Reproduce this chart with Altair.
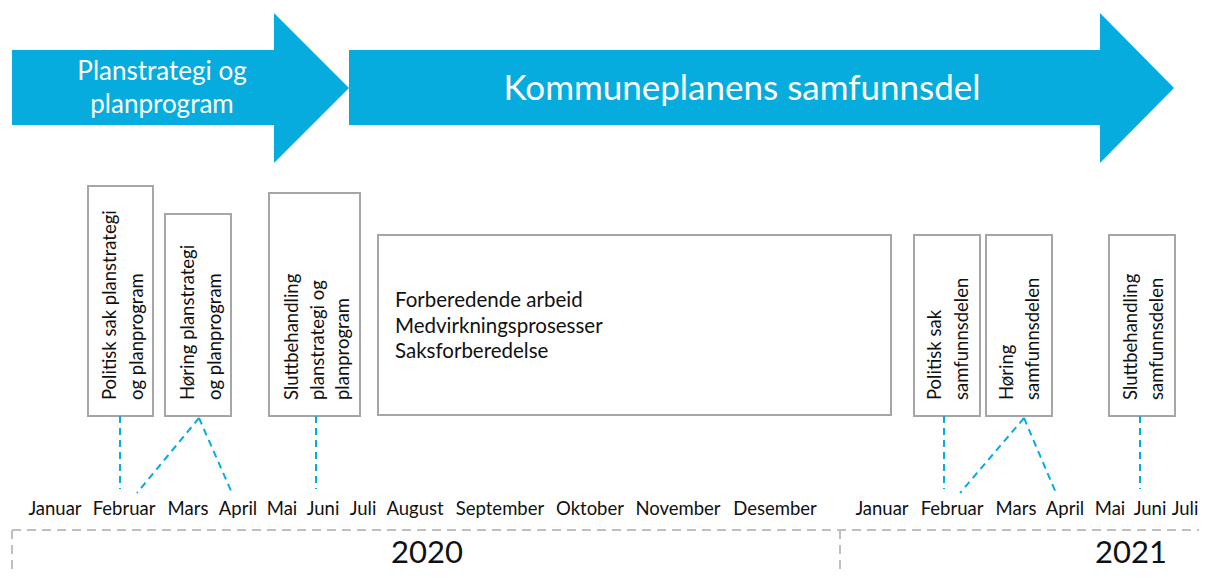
import altair as alt
import pandas as pd

# ---------------- data (timeline positions in diagram units) ----------------
BLUE = "#06ACDE"
GREY = "#A6A6A6"
DASHGREY = "#BFBFBF"
INK = "#111111"

# arrows: body rectangles
arrow_body_x0 = [12, 349]
arrow_body_x1 = [274, 1100]
arrow_body_y0 = [50, 50]
arrow_body_y1 = [125, 125]
# arrow heads (triangles): base x, tip x, top y, bottom y, tip y
head_base_x = [274, 1100]
head_tip_x = [349, 1174]
head_top_y = [13, 13]
head_bot_y = [163, 163]
head_mid_y = [88, 88]

arrow_text = ["Planstrategi og", "planprogram", "Kommuneplanens samfunnsdel"]
arrow_text_x = [162, 162, 742]
arrow_text_y = [80, 113, 100]
arrow_text_size = [26, 26, 35]

# activity boxes
box_x0 = [88, 165, 269, 378, 914, 986, 1109]
box_x1 = [153, 231, 360, 891, 980, 1052, 1175]
box_y0 = [186, 214, 193, 235, 235, 235, 235]
box_y1 = [416, 416, 416, 415, 416, 416, 416]

# vertical box texts (one row per line)
vtext = ["Politisk sak planstrategi", "og planprogram",
         "Høring planstrategi", "og planprogram",
         "Sluttbehandling", "planstrategi og", "planprogram",
         "Politisk sak", "samfunnsdelen",
         "Høring", "samfunnsdelen",
         "Sluttbehandling", "samfunnsdelen"]
vtext_x = [110, 137, 188, 215, 292, 318, 343, 935, 962, 1007, 1033, 1131, 1157]
vtext_y = [400] * 13

# horizontal box text
htext = ["Forberedende arbeid", "Medvirkningsprosesser", "Saksforberedelse"]
htext_x = [395, 395, 395]
htext_y = [307, 333, 358]

# connector lines (dashed blue)
conn_x0 = [120, 199, 199, 316, 944, 1024, 1024, 1140]
conn_y0 = [416, 418, 418, 416, 416, 418, 418, 416]
conn_x1 = [120, 137, 232, 316, 944, 960, 1056, 1140]
conn_y1 = [489, 493, 493, 489, 489, 493, 493, 489]

# month labels
months = ["Januar", "Februar", "Mars", "April", "Mai", "Juni", "Juli", "August",
          "September", "Oktober", "November", "Desember",
          "Januar", "Februar", "Mars", "April", "Mai", "Juni", "Juli"]
month_x = [55, 124, 188, 238, 282, 323, 363, 415, 500, 590, 678, 775,
           882, 952, 1016, 1065, 1110, 1150, 1185]
month_y = [515] * len(months)

# year frame
years = ["2020", "2021"]
year_x = [427, 1131]
year_y = [563, 563]
frame_x0 = [12, 12, 840]
frame_x1 = [1199, 12, 840]
frame_y0 = [530, 530, 530]
frame_y1 = [530, 570, 570]

# ---------------- scales ----------------
W, H = 1191, 562
xs = alt.Scale(domain=[8, 1199], nice=False, zero=False)
ys = alt.Scale(domain=[8, 570], nice=False, zero=False, reverse=True)


def X(f):
    return alt.X(f, type="quantitative", scale=xs, axis=None)


def Y(f):
    return alt.Y(f, type="quantitative", scale=ys, axis=None)


body_df = pd.DataFrame({"x0": arrow_body_x0, "x1": arrow_body_x1,
                        "y0": arrow_body_y0, "y1": arrow_body_y1})
bodies = alt.Chart(body_df).mark_rect(color=BLUE).encode(
    x=X("x0"), x2="x1", y=Y("y0"), y2="y1")

head_rows = []
for i in range(len(head_base_x)):
    head_rows.append({"a": i, "x": head_base_x[i], "yt": head_top_y[i], "yb": head_bot_y[i]})
    head_rows.append({"a": i, "x": head_tip_x[i], "yt": head_mid_y[i], "yb": head_mid_y[i]})
heads = alt.Chart(pd.DataFrame(head_rows)).mark_area(color=BLUE, opacity=1).encode(
    x=X("x"), y=Y("yt"), y2="yb", detail="a:N")

atext_df = pd.DataFrame({"t": arrow_text, "x": arrow_text_x, "y": arrow_text_y,
                         "s": arrow_text_size})
atexts = alt.Chart(atext_df).mark_text(
    color="white", font="Lato", align="center", baseline="alphabetic").encode(
    x=X("x"), y=Y("y"), text="t:N", size=alt.Size("s:Q", scale=None, legend=None))

box_df = pd.DataFrame({"x0": box_x0, "x1": box_x1, "y0": box_y0, "y1": box_y1})
boxes = alt.Chart(box_df).mark_rect(fill="white", stroke=GREY, strokeWidth=2).encode(
    x=X("x0"), x2="x1", y=Y("y0"), y2="y1")

vt_df = pd.DataFrame({"t": vtext, "x": vtext_x, "y": vtext_y})
vtexts = alt.Chart(vt_df).mark_text(
    angle=270, align="left", baseline="middle", font="Lato", fontSize=18.5,
    color=INK).encode(x=X("x"), y=Y("y"), text="t:N")

ht_df = pd.DataFrame({"t": htext, "x": htext_x, "y": htext_y})
htexts = alt.Chart(ht_df).mark_text(
    align="left", baseline="alphabetic", font="Lato", fontSize=20.5,
    color=INK).encode(x=X("x"), y=Y("y"), text="t:N")

conn_df = pd.DataFrame({"x0": conn_x0, "y0": conn_y0, "x1": conn_x1, "y1": conn_y1})
conns = alt.Chart(conn_df).mark_rule(color=BLUE, strokeWidth=2, strokeDash=[7, 5]).encode(
    x=X("x0"), y=Y("y0"), x2="x1", y2="y1")

m_df = pd.DataFrame({"t": months, "x": month_x, "y": month_y})
mtexts = alt.Chart(m_df).mark_text(
    align="center", baseline="alphabetic", font="Lato", fontSize=18.5,
    color=INK).encode(x=X("x"), y=Y("y"), text="t:N")

f_df = pd.DataFrame({"x0": frame_x0, "x1": frame_x1, "y0": frame_y0, "y1": frame_y1})
frame = alt.Chart(f_df).mark_rule(color=DASHGREY, strokeWidth=2, strokeDash=[9, 6]).encode(
    x=X("x0"), y=Y("y0"), x2="x1", y2="y1")

y_df = pd.DataFrame({"t": years, "x": year_x, "y": year_y})
ytexts = alt.Chart(y_df).mark_text(
    align="center", baseline="alphabetic", font="Lato", fontSize=31,
    color=INK).encode(x=X("x"), y=Y("y"), text="t:N")

chart = alt.layer(bodies, heads, atexts, boxes, vtexts, htexts, conns, mtexts,
                  frame, ytexts).properties(
    width=W, height=H, padding=0,
    autosize=alt.AutoSizeParams(type="none")
).configure_view(stroke=None)

chart.save("out.html", embed_options={"renderer": "svg", "actions": False})
